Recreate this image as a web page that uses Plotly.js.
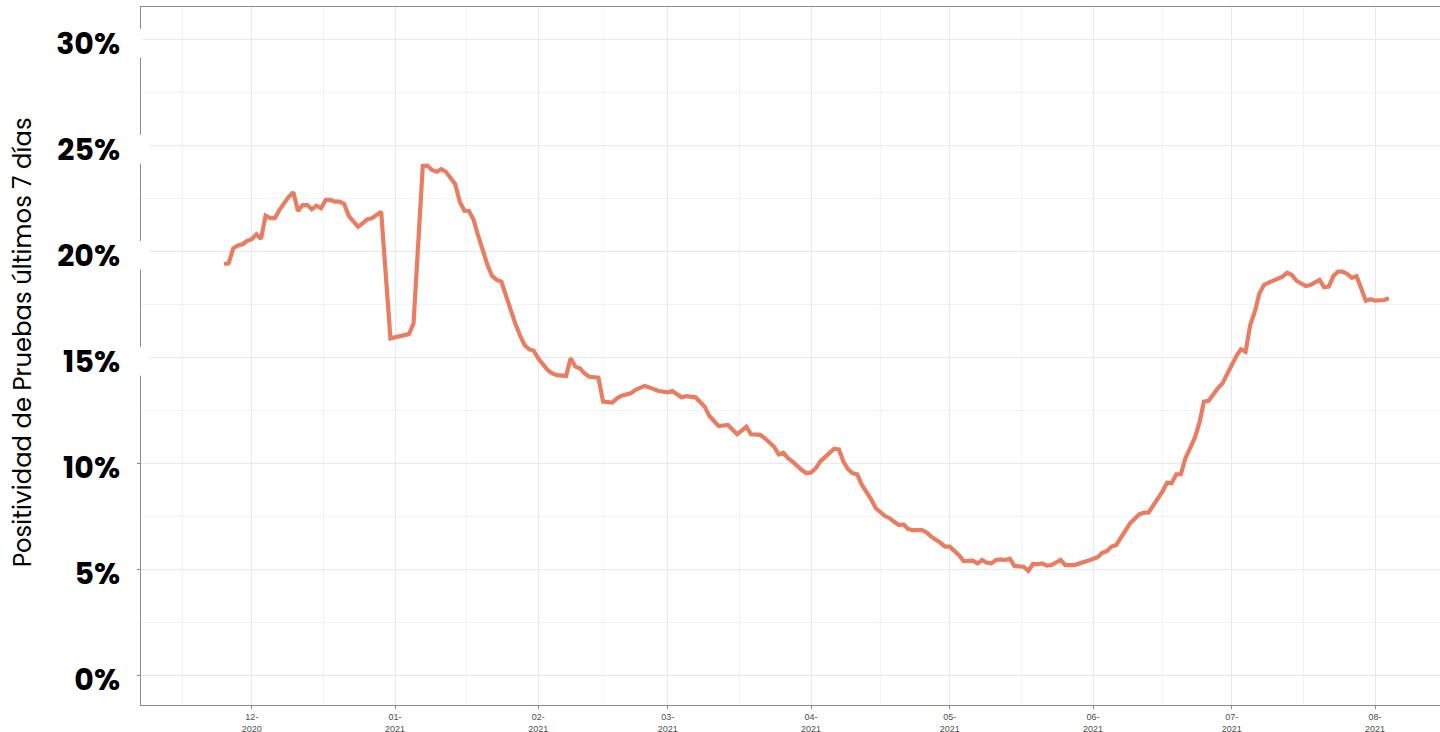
<!DOCTYPE html>
<html>
<head>
<meta charset="utf-8">
<script src="https://cdn.plot.ly/plotly-3.0.1.min.js"></script>
<style>
  html, body { margin: 0; padding: 0; background: #ffffff; }
  #chart { width: 1440px; height: 732px; }
</style>
</head>
<body>
<div id="chart"></div>
<script>
// Daily 7-day test positivity (%)
const fechas = [
  '2020-11-25','2020-11-26','2020-11-27','2020-11-28','2020-11-29','2020-11-30',
  '2020-12-01','2020-12-02','2020-12-03','2020-12-04','2020-12-05','2020-12-06','2020-12-07',
  '2020-12-08','2020-12-09','2020-12-10','2020-12-11','2020-12-12','2020-12-13','2020-12-14',
  '2020-12-15','2020-12-16','2020-12-17','2020-12-18','2020-12-19','2020-12-20','2020-12-21',
  '2020-12-22','2020-12-23','2020-12-24','2020-12-25','2020-12-26','2020-12-27','2020-12-28',
  '2020-12-29','2020-12-31',
  '2021-01-01','2021-01-02','2021-01-03','2021-01-04','2021-01-05','2021-01-07','2021-01-08',
  '2021-01-09','2021-01-10','2021-01-11','2021-01-12','2021-01-13','2021-01-14','2021-01-15',
  '2021-01-16','2021-01-17','2021-01-18','2021-01-19','2021-01-20','2021-01-21','2021-01-22',
  '2021-01-23','2021-01-24','2021-01-25','2021-01-26','2021-01-27','2021-01-28','2021-01-29',
  '2021-01-30','2021-01-31',
  '2021-02-01','2021-02-03','2021-02-04','2021-02-05','2021-02-07','2021-02-08','2021-02-09',
  '2021-02-10','2021-02-11','2021-02-12','2021-02-14','2021-02-15','2021-02-17','2021-02-18',
  '2021-02-19','2021-02-21','2021-02-22','2021-02-24','2021-02-25','2021-02-27',
  '2021-03-01','2021-03-02','2021-03-04','2021-03-05','2021-03-07','2021-03-08','2021-03-09',
  '2021-03-10','2021-03-12','2021-03-14','2021-03-15','2021-03-16','2021-03-17','2021-03-18',
  '2021-03-19','2021-03-21','2021-03-22','2021-03-24','2021-03-25','2021-03-26','2021-03-27',
  '2021-03-28','2021-03-30','2021-03-31',
  '2021-04-01','2021-04-02','2021-04-03','2021-04-04','2021-04-06','2021-04-07','2021-04-08',
  '2021-04-09','2021-04-10','2021-04-11','2021-04-12','2021-04-14','2021-04-15','2021-04-17',
  '2021-04-18','2021-04-19','2021-04-20','2021-04-21','2021-04-22','2021-04-23','2021-04-25',
  '2021-04-26','2021-04-27','2021-04-29','2021-04-30',
  '2021-05-01','2021-05-03','2021-05-04','2021-05-06','2021-05-07','2021-05-08','2021-05-09',
  '2021-05-10','2021-05-11','2021-05-12','2021-05-13','2021-05-14','2021-05-15','2021-05-16',
  '2021-05-17','2021-05-18','2021-05-19','2021-05-20','2021-05-21','2021-05-22','2021-05-23',
  '2021-05-25','2021-05-26','2021-05-28','2021-05-30','2021-05-31',
  '2021-06-02','2021-06-03','2021-06-04','2021-06-05','2021-06-06','2021-06-08','2021-06-09',
  '2021-06-11','2021-06-12','2021-06-13','2021-06-14','2021-06-15','2021-06-16','2021-06-17',
  '2021-06-18','2021-06-19','2021-06-20','2021-06-21','2021-06-23','2021-06-24','2021-06-25',
  '2021-06-26','2021-06-27','2021-06-28','2021-06-29','2021-06-30',
  '2021-07-01','2021-07-02','2021-07-03','2021-07-04','2021-07-05','2021-07-06','2021-07-07',
  '2021-07-08','2021-07-09','2021-07-11','2021-07-12','2021-07-13','2021-07-14','2021-07-15',
  '2021-07-16','2021-07-17','2021-07-18','2021-07-19','2021-07-20','2021-07-21','2021-07-22',
  '2021-07-23','2021-07-24','2021-07-25','2021-07-26','2021-07-27','2021-07-28','2021-07-29',
  '2021-07-30','2021-07-31',
  '2021-08-01','2021-08-03','2021-08-04'
];
const positividad = [
  19.41,19.44,20.15,20.28,20.34,20.50,
  20.58,20.81,20.59,21.69,21.57,21.57,21.96,
  22.30,22.58,22.79,21.91,22.19,22.19,21.99,
  22.16,22.04,22.43,22.43,22.35,22.35,22.24,
  21.67,21.45,21.17,21.33,21.52,21.57,21.72,
  21.88,15.90,
  15.95,15.95,16.01,16.10,16.60,24.03,24.05,
  23.84,23.76,23.88,23.76,23.45,23.18,22.35,
  21.92,21.91,21.49,20.73,19.99,19.36,18.84,
  18.66,18.58,17.87,17.24,16.61,16.06,15.59,
  15.39,15.32,
  14.95,14.41,14.25,14.17,14.13,14.96,14.57,
  14.49,14.25,14.09,14.05,12.92,12.87,13.07,
  13.20,13.31,13.47,13.66,13.59,13.42,
  13.36,13.42,13.12,13.18,13.12,12.87,12.68,
  12.24,11.77,11.82,11.58,11.38,11.55,11.74,
  11.38,11.35,11.19,10.79,10.43,10.51,10.25,
  10.09,9.69,9.54,
  9.57,9.77,10.10,10.30,10.70,10.67,10.09,
  9.73,9.54,9.49,8.99,8.31,7.89,7.52,
  7.42,7.25,7.10,7.13,6.91,6.86,6.86,
  6.75,6.55,6.26,6.08,
  6.08,5.68,5.40,5.42,5.29,5.45,5.32,
  5.29,5.45,5.48,5.45,5.51,5.17,5.17,
  5.13,4.94,5.26,5.25,5.29,5.18,5.21,
  5.45,5.21,5.21,5.32,5.42,
  5.58,5.79,5.87,6.08,6.15,6.78,7.18,
  7.60,7.68,7.68,8.00,8.28,8.67,9.09,
  9.07,9.49,9.50,10.25,11.20,11.90,12.92,
  12.96,13.28,13.55,13.78,14.22,
  14.57,15.07,15.39,15.27,16.53,17.16,18.03,
  18.42,18.53,18.74,18.81,19.00,18.89,18.62,
  18.50,18.37,18.42,18.53,18.66,18.31,18.34,
  18.84,19.05,19.05,18.94,18.76,18.84,18.26,
  17.68,17.75,
  17.68,17.71,17.79
];

// Axis ticks
const xTickVals = ['2020-12-01','2021-01-01','2021-02-01','2021-03-01','2021-04-01',
                   '2021-05-01','2021-06-01','2021-07-01','2021-08-01'];
const xTickText = ['12-<br>2020','01-<br>2021','02-<br>2021','03-<br>2021','04-<br>2021',
                   '05-<br>2021','06-<br>2021','07-<br>2021','08-<br>2021'];
const monthStarts = ['2020-11-01','2020-12-01','2021-01-01','2021-02-01','2021-03-01',
                     '2021-04-01','2021-05-01','2021-06-01','2021-07-01','2021-08-01','2021-09-01'];
const yTickVals = [0,5,10,15,20,25,30];
const yTickText = ['0%','5%','10%','15%','20%','25%','30%'];
const coveredLabels = [15,20,25,30];

const gridMajor = '#e9e9e9';
const gridMinor = '#f3f3f3';
const axisGrey = '#8a8a8a';

// minor vertical grid lines midway between month breaks (as in ggplot)
const shapes = [];
for (let i = 0; i < monthStarts.length - 1; i++) {
  const a = new Date(monthStarts[i] + 'T00:00:00Z').getTime();
  const b = new Date(monthStarts[i + 1] + 'T00:00:00Z').getTime();
  shapes.push({
    type: 'line', xref: 'x', yref: 'paper', layer: 'below',
    x0: (a + b) / 2, x1: (a + b) / 2, y0: 0, y1: 1,
    line: { color: gridMinor, width: 1 }
  });
}
// white label backgrounds that hide the axis line behind the upper labels
coveredLabels.forEach(v => {
  shapes.push({
    type: 'rect', xref: 'paper', yref: 'y', layer: 'above',
    x0: -16 / 1299, x1: (v === 30 ? 1.5 : 8) / 1299,
    y0: v - 0.85, y1: v + 0.5,
    fillcolor: '#ffffff', line: { width: 0 }
  });
});

const trace = {
  type: 'scatter', mode: 'lines',
  x: fechas, y: positividad,
  line: { color: '#e97d61', width: 4.2, shape: 'linear' },
  hoverinfo: 'x+y'
};

const layout = {
  width: 1440, height: 732,
  margin: { l: 141, r: 0, t: 7, b: 27, pad: 0 },
  paper_bgcolor: '#ffffff', plot_bgcolor: '#ffffff',
  showlegend: false,
  xaxis: {
    type: 'date',
    range: ['2020-11-07 01:00', '2021-08-15 01:30'],
    tickmode: 'array', tickvals: xTickVals, ticktext: xTickText,
    ticks: 'outside', ticklen: 3, tickwidth: 1, tickcolor: axisGrey,
    tickfont: { family: 'Liberation Sans, Arial, sans-serif', size: 9, color: '#4d4d4d' },
    showgrid: true, gridcolor: gridMajor, gridwidth: 1,
    showline: true, linecolor: axisGrey, linewidth: 1, mirror: true,
    zeroline: false, fixedrange: true
  },
  yaxis: {
    range: [-1.39, 31.53],
    tickmode: 'array', tickvals: yTickVals, ticktext: yTickText,
    ticks: 'outside', ticklen: 3, tickwidth: 1, tickcolor: axisGrey,
    ticklabelstandoff: 11,
    ticklabelshift: 4,
    tickfont: { family: 'Poppins, Inter, Lato, sans-serif', size: 30, color: '#000000', weight: 700 },
    showgrid: true, gridcolor: gridMajor, gridwidth: 1,
    minor: { tickmode: 'linear', tick0: 0, dtick: 2.5, showgrid: true, gridcolor: gridMinor, gridwidth: 1, ticks: '' },
    showline: true, linecolor: axisGrey, linewidth: 1, mirror: true,
    zeroline: false, fixedrange: true
  },
  shapes: shapes,
  annotations: [{
    xref: 'paper', yref: 'paper',
    x: (22 - 141) / 1299, y: (705 - 342) / 698,
    xanchor: 'center', yanchor: 'middle',
    text: 'Positividad de Pruebas últimos 7 días',
    textangle: -90, showarrow: false,
    font: { family: 'Poppins, Inter, Lato, sans-serif', size: 24.3, color: '#000000' }
  }]
};

Plotly.newPlot('chart', [trace], layout, { displayModeBar: false, staticPlot: true });
</script>
</body>
</html>
